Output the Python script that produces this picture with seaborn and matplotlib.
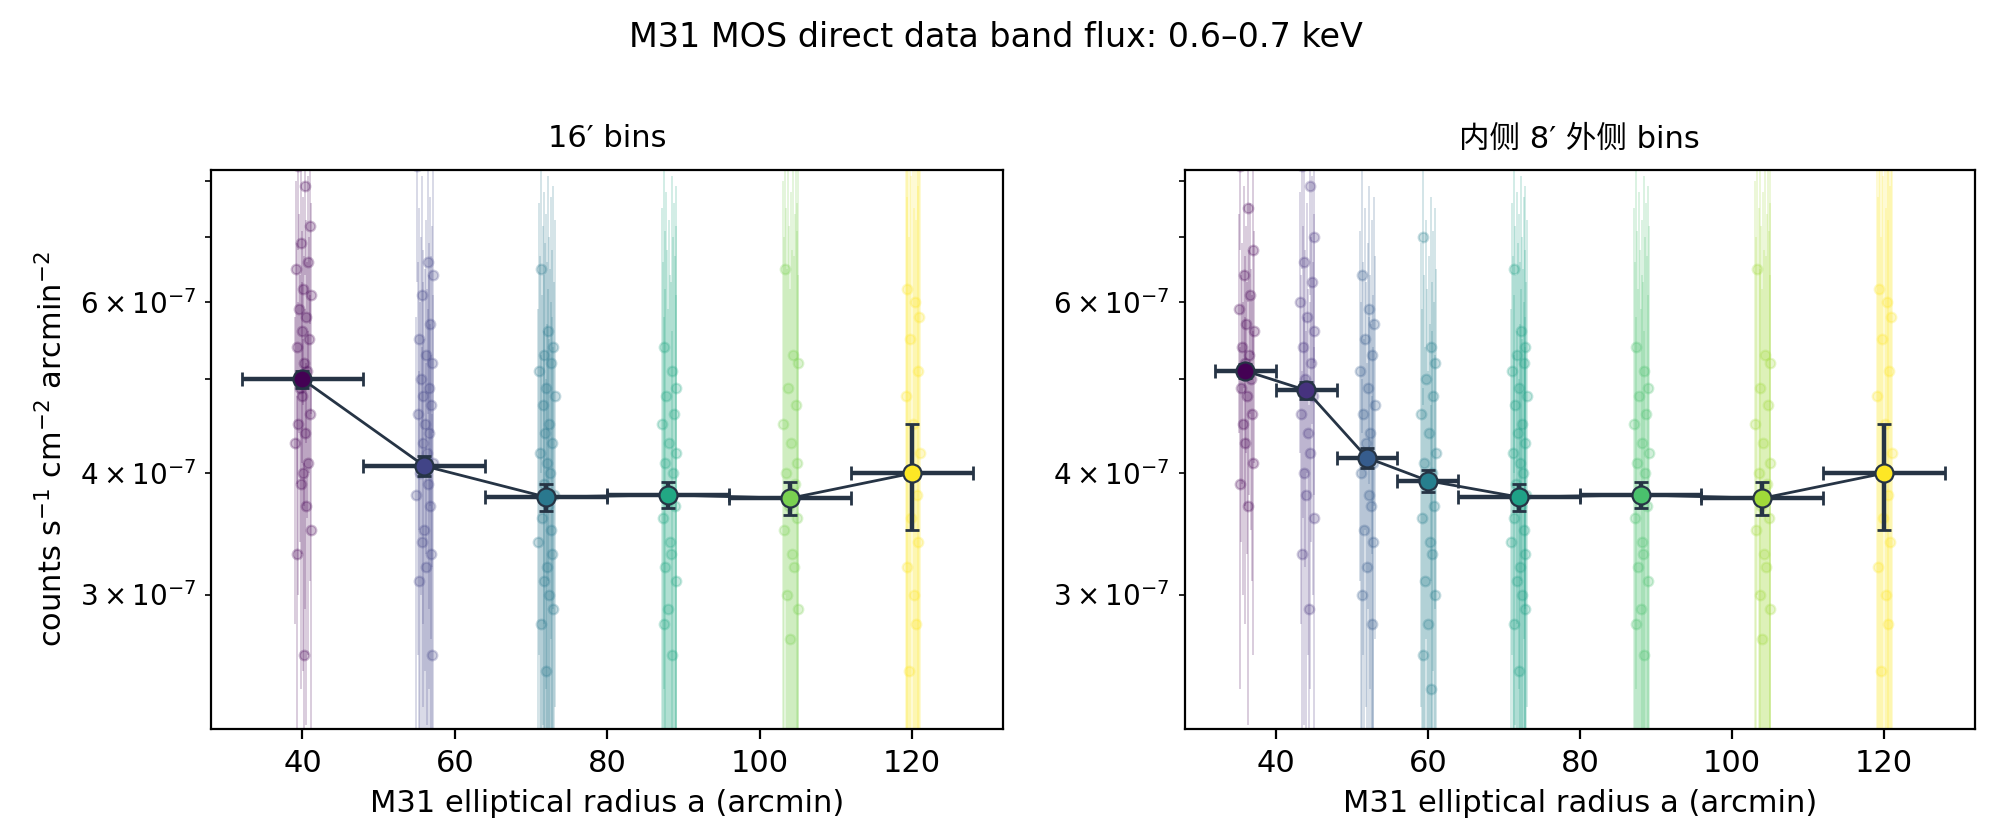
import numpy as np
import matplotlib
matplotlib.use("Agg")
import matplotlib.pyplot as plt
import seaborn as sns

plt.rcParams['font.family'] = ['DejaVu Sans', 'Noto Sans CJK SC']

# binned profile, values in units of 1e-7 counts/s/cm2/arcmin2
a16 = [40, 56, 72, 88, 104, 120]
w16 = [8, 8, 8, 8, 8, 8]
f16 = [5.00, 4.07, 3.78, 3.80, 3.77, 4.00]
e16 = [0.10, 0.10, 0.12, 0.12, 0.15, 0.50]

a8 = [36, 44, 52, 60, 72, 88, 104, 120]
w8 = [4, 4, 4, 4, 8, 8, 8, 8]
f8 = [5.10, 4.87, 4.15, 3.93, 3.78, 3.80, 3.77, 4.00]
e8 = [0.08, 0.10, 0.10, 0.10, 0.12, 0.12, 0.15, 0.50]

# individual regions (a offset from bin centre, flux, error)
pts_x = {
    40: [-0.5, 0.3, 0.8, -0.2, 0.6, -0.7, 0.1, 0.9, -0.4, 0.4, -0.1, 0.7, -0.6, 0.2, 0.5, -0.3, 0.0, 0.8, -0.5, 0.3, -0.8, 0.6, 0.1, -0.2, 0.4, 0.9, -0.6, 0.2],
    56: [-0.8, 0.4, 0.9, -0.3, 0.6, -0.6, 0.2, 0.8, -0.4, 0.5, -0.1, 0.7, -0.7, 0.1, 0.5, -0.2, 0.3, 0.9, -0.5, 0.4, -0.9, 0.6, 0.0, -0.3, 0.7, 0.2, -0.6, 0.8],
    72: [-0.6, 0.2, 0.7, -0.2, 0.5, -0.8, 0.0, 0.9, -0.4, 0.3, -0.1, 0.6, -0.7, 0.1, 0.4, -0.3, 0.8, 0.2, -0.5, 0.5, -0.9, 0.6, 0.1, -0.2, 0.3, 0.7, -0.6, 0.0],
    88: [-0.5, 0.4, 0.8, -0.2, 0.6, -0.7, 0.1, 0.9, -0.4, 0.5, -0.1, 0.7, -0.6, 0.2, 0.3, -0.3, 0.8, 0.0, -0.5, 0.4],
    104: [-0.6, 0.3, 0.9, -0.2, 0.6, -0.8, 0.1, 0.8, -0.4, 0.5, -0.1, 0.7, -0.7, 0.2, 0.4, -0.3, 0.9, 0.0],
    120: [-0.5, 0.3, 0.8, -0.2, 0.6, -0.7, 0.1, 0.9, -0.4, 0.5, -0.1, 0.7, -0.6, 0.2, 0.4, -0.3],
}
pts_f = {
    40: [8.3, 7.9, 7.2, 6.9, 6.6, 6.5, 6.2, 6.1, 5.9, 5.8, 5.6, 5.5, 5.4, 5.2, 5.1, 4.9, 4.8, 4.6, 4.5, 4.4, 4.3, 4.1, 4.0, 3.9, 3.7, 3.5, 3.3, 2.6],
    56: [8.3, 6.6, 6.4, 6.1, 5.7, 5.5, 5.3, 5.2, 5.0, 4.9, 4.8, 4.7, 4.6, 4.5, 4.4, 4.3, 4.2, 4.1, 4.0, 3.9, 3.8, 3.7, 3.5, 3.4, 3.3, 3.2, 3.1, 2.6],
    72: [6.5, 5.6, 5.4, 5.3, 5.2, 5.1, 4.9, 4.8, 4.7, 4.5, 4.4, 4.3, 4.2, 4.1, 4.0, 3.9, 3.8, 3.7, 3.6, 3.5, 3.4, 3.3, 3.2, 3.1, 3.0, 2.9, 2.8, 2.5],
    88: [5.4, 5.1, 4.9, 4.8, 4.6, 4.5, 4.3, 4.2, 4.1, 4.0, 3.8, 3.7, 3.6, 3.4, 3.3, 3.2, 3.1, 2.9, 2.8, 2.6],
    104: [6.5, 5.3, 5.2, 4.9, 4.7, 4.5, 4.3, 4.1, 4.0, 3.9, 3.7, 3.6, 3.5, 3.3, 3.2, 3.0, 2.9, 2.7],
    120: [6.2, 6.0, 5.8, 5.5, 5.1, 4.8, 4.5, 4.2, 4.0, 3.8, 3.6, 3.4, 3.2, 3.0, 2.8, 2.5],
}
pts_e = {40: 1.5, 56: 2.0, 72: 2.5, 88: 3.0, 104: 3.5, 120: 4.5}

# right panel splits the inner bins into 8' groups
pts_x8 = {
    36: [-0.6, 0.3, 0.8, -0.2, 0.5, -0.7, 0.1, 0.9, -0.4, 0.4, -0.1, 0.6, -0.5, 0.2, 0.7, -0.3, 0.0, 0.8, -0.6, 0.3],
    44: [-0.5, 0.4, 0.8, -0.3, 0.6, -0.7, 0.1, 0.9, -0.4, 0.5, -0.1, 0.7, -0.6, 0.2, 0.4, -0.2, 0.0, 0.8, -0.5, 0.3],
    52: [-0.6, 0.2, 0.8, -0.2, 0.5, -0.8, 0.1, 0.9, -0.4, 0.3, -0.1, 0.6, -0.7, 0.2, 0.4, -0.3, 0.7, 0.0, -0.5, 0.5],
    60: [-0.5, 0.3, 0.8, -0.2, 0.6, -0.7, 0.1, 0.9, -0.4, 0.5, -0.1, 0.7, -0.6, 0.2, 0.4, -0.3, 0.8, 0.0, -0.5, 0.3],
}
pts_f8 = {
    36: [8.3, 7.5, 6.8, 6.4, 6.1, 5.9, 5.7, 5.6, 5.4, 5.3, 5.2, 5.0, 4.9, 4.8, 4.6, 4.5, 4.3, 4.1, 3.9, 3.7],
    44: [8.3, 7.9, 7.0, 6.6, 6.3, 6.0, 5.8, 5.6, 5.4, 5.2, 5.0, 4.8, 4.6, 4.4, 4.2, 4.0, 3.8, 3.6, 3.3, 2.9],
    52: [6.4, 5.9, 5.7, 5.5, 5.3, 5.1, 4.9, 4.7, 4.6, 4.4, 4.3, 4.1, 4.0, 3.8, 3.7, 3.5, 3.4, 3.2, 3.0, 2.8],
    60: [7.0, 5.4, 5.2, 5.0, 4.8, 4.6, 4.4, 4.2, 4.1, 4.0, 3.9, 3.7, 3.6, 3.4, 3.3, 3.1, 3.0, 2.8, 2.6, 2.4],
}
pts_e8 = {36: 1.5, 44: 1.8, 52: 2.0, 60: 2.3}

title = "M31 MOS direct data band flux: 0.6\u20130.7 keV"
titles = ["16\u2032 bins", "\u5185\u4fa7 8\u2032 \u5916\u4fa7 bins"]
scale = 1e-7

fig = plt.figure(figsize=(9.955, 4.2), dpi=200)
ax1 = fig.add_axes([0.106, 0.132, 0.398, 0.666])
ax2 = fig.add_axes([0.595, 0.132, 0.397, 0.666])
line_c = "#263445"


def draw(ax, a, w, f, e, groups):
    cols = plt.cm.viridis(np.linspace(0, 1, len(a)))
    for (centre, xs, fs, err), c in zip(groups, cols):
        x = np.array(xs) * 1.2 + centre
        y = np.array(fs) * scale
        ax.errorbar(x, y, yerr=err * scale, fmt="none", ecolor=c, alpha=0.2, lw=0.7)
        sns.scatterplot(x=x, y=y, ax=ax, color=c, alpha=0.25, s=12, edgecolor=c, linewidth=0.8)
    ax.plot(a, np.array(f) * scale, color=line_c, lw=1.0, zorder=4)
    ax.errorbar(a, np.array(f) * scale, xerr=w, yerr=np.array(e) * scale, fmt="none",
                ecolor=line_c, elinewidth=1.6, capsize=2.5, zorder=5)
    for xi, yi, c in zip(a, f, cols):
        ax.plot(xi, yi * scale, "o", ms=6.5, mfc=c, mec=line_c, mew=0.8, zorder=6)
    ax.set_yscale("log")
    ax.set_ylim(2.18e-7, 8.22e-7)
    ax.set_xlim(28, 132)
    ax.set_xlabel("M31 elliptical radius a (arcmin)", fontsize=11)


groups16 = [(k, pts_x[k], pts_f[k], pts_e[k]) for k in a16]
groups8 = [(k, pts_x8[k], pts_f8[k], pts_e8[k]) for k in a8[:4]] + \
          [(k, pts_x[k], pts_f[k], pts_e[k]) for k in a8[4:]]
draw(ax1, a16, w16, f16, e16, groups16)
draw(ax2, a8, w8, f8, e8, groups8)

ax1.set_ylabel("counts s$^{-1}$ cm$^{-2}$ arcmin$^{-2}$", fontsize=11)
ax1.set_title(titles[0], fontsize=11, pad=8)
ax2.set_title(titles[1], fontsize=11, pad=8)
for ax in (ax1, ax2):
    ax.tick_params(labelsize=11)
fig.suptitle(title, fontsize=12, y=0.975)
fig.savefig("out.png", dpi=200)
